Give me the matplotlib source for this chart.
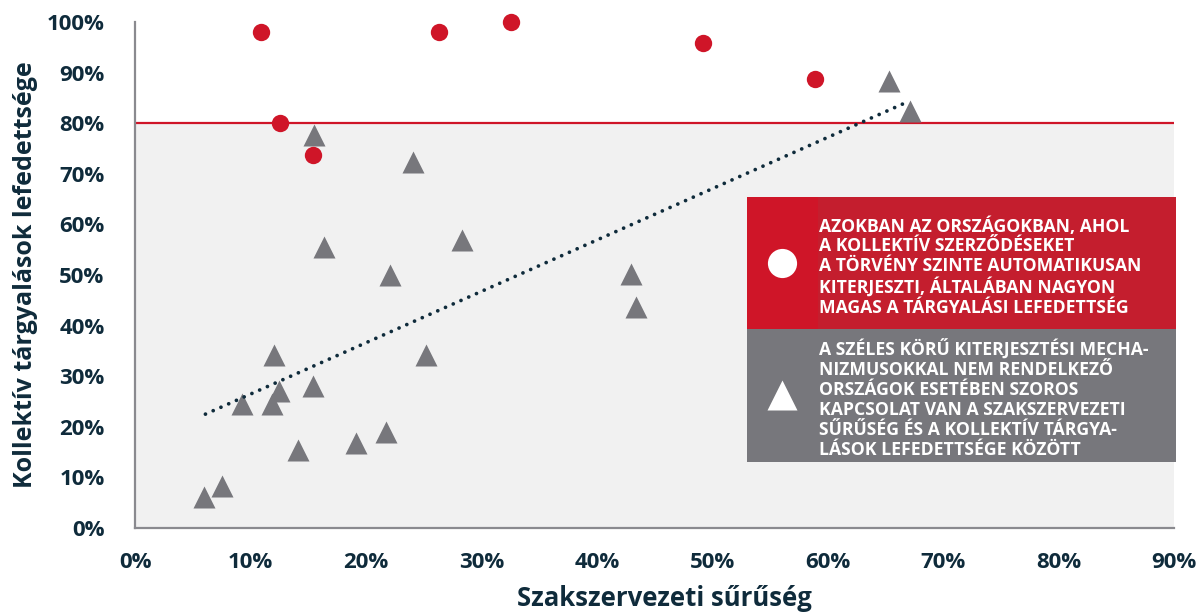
import matplotlib
matplotlib.use("Agg")
import matplotlib.pyplot as plt
from matplotlib.patches import Rectangle

# union density (%) vs. collective bargaining coverage (%)
ext_x = [10.9, 12.6, 15.4, 26.3, 32.6, 49.2, 58.9]
ext_y = [98.0, 80.0, 73.8, 98.0, 100.0, 95.9, 88.7]

noext_x = [15.5, 24.1, 16.4, 28.3, 22.1, 12.0, 25.2, 15.4, 12.5, 9.3, 11.9,
           14.1, 19.1, 21.7, 7.5, 6.0, 43.0, 43.4, 65.3, 67.1]
noext_y = [77.6, 72.3, 55.5, 57.0, 50.0, 34.1, 34.1, 28.0, 27.1, 24.6, 24.6,
           15.4, 16.8, 18.9, 8.3, 6.2, 50.2, 43.7, 88.3, 82.5]

trend_x = [6.1, 66.6]
trend_y = [22.5, 83.9]

threshold = 80
x_ticks = list(range(0, 91, 10))
y_ticks = list(range(0, 101, 10))

legend_ext = ("AZOKBAN AZ ORSZÁGOKBAN, AHOL\n"
              "A KOLLEKTÍV SZERZŐDÉSEKET\n"
              "A TÖRVÉNY SZINTE AUTOMATIKUSAN\n"
              "KITERJESZTI, ÁLTALÁBAN NAGYON\n"
              "MAGAS A TÁRGYALÁSI LEFEDETTSÉG")
legend_noext = ("A SZÉLES KÖRŰ KITERJESZTÉSI MECHA-\n"
                "NIZMUSOKKAL NEM RENDELKEZŐ\n"
                "ORSZÁGOK ESETÉBEN SZOROS\n"
                "KAPCSOLAT VAN A SZAKSZERVEZETI\n"
                "SŰRŰSÉG ÉS A KOLLEKTÍV TÁRGYA-\n"
                "LÁSOK LEFEDETTSÉGE KÖZÖTT")

RED = "#cf1528"
RED2 = "#c41e2e"
GREY = "#77777c"
NAVY = "#0f2b3b"
FONT = ["Open Sans", "DejaVu Sans"]

plt.rcParams["font.family"] = FONT
plt.rcParams["font.weight"] = "bold"

fig = plt.figure(figsize=(11.98, 6.15), dpi=100)
ax = fig.add_axes([0.1127, 0.1415, 0.8673, 0.8227])

ax.set_xlim(0, 90)
ax.set_ylim(0, 100)
ax.axhspan(0, threshold, color="#f1f1f1", zorder=0, lw=0)
ax.axhline(threshold, color=RED, lw=1.6, zorder=1)

ax.plot(noext_x, noext_y, ls="none", marker="^", ms=16, color=GREY,
        mec="none", zorder=2, clip_on=False)
ax.plot(ext_x, ext_y, ls="none", marker="o", ms=12.5, color=RED,
        mec="none", zorder=3, clip_on=False)
ax.plot(trend_x, trend_y, color=NAVY, lw=2.7, ls=(0, (0.01, 2.25)),
        dash_capstyle="round", zorder=4)

# legend boxes
tr = ax.transAxes
ax.add_patch(Rectangle((0.589, 0.393), 0.413, 0.261, transform=tr,
                       color=RED2, lw=0, zorder=5, clip_on=False))
ax.add_patch(Rectangle((0.589, 0.393), 0.0685, 0.261, transform=tr,
                       color=RED, lw=0, zorder=5, clip_on=False))
ax.add_patch(Rectangle((0.589, 0.130), 0.413, 0.263, transform=tr,
                       color=GREY, lw=0, zorder=5, clip_on=False))
ax.plot([0.623], [0.524], transform=tr, marker="o", ms=21, color="white",
        mec="none", zorder=6, clip_on=False)
ax.plot([0.623], [0.263], transform=tr, marker="^", ms=21, color="white",
        mec="none", zorder=6, clip_on=False)
ax.text(0.6585, 0.516, legend_ext, transform=tr, color="white",
        fontsize=12.7, fontweight="bold", va="center", ha="left",
        linespacing=1.13, zorder=7)
ax.text(0.6585, 0.255, legend_noext, transform=tr, color="white",
        fontsize=12.7, fontweight="bold", va="center", ha="left",
        linespacing=1.13, zorder=7)

for s in ["top", "right"]:
    ax.spines[s].set_visible(False)
for s in ["left", "bottom"]:
    ax.spines[s].set_color("#8a8a8f")
    ax.spines[s].set_linewidth(1.6)

ax.set_xticks(x_ticks)
ax.set_xticklabels([f"{v}%" for v in x_ticks])
ax.set_yticks(y_ticks)
ax.set_yticklabels([f"{v}%" for v in y_ticks])
ax.tick_params(axis="both", length=0, labelsize=16, labelcolor=NAVY)
ax.tick_params(axis="x", pad=17)
ax.tick_params(axis="y", pad=22)

ax.set_xlabel("Szakszervezeti sűrűség", fontsize=18.5, fontweight="bold",
              color=NAVY)
ax.xaxis.set_label_coords(0.5096, -0.112)
ax.set_ylabel("Kollektív tárgyalások lefedettsége", fontsize=18,
              fontweight="bold", color=NAVY)
ax.yaxis.set_label_coords(-0.093, 0.5)

fig.savefig("out.png", dpi=100)
